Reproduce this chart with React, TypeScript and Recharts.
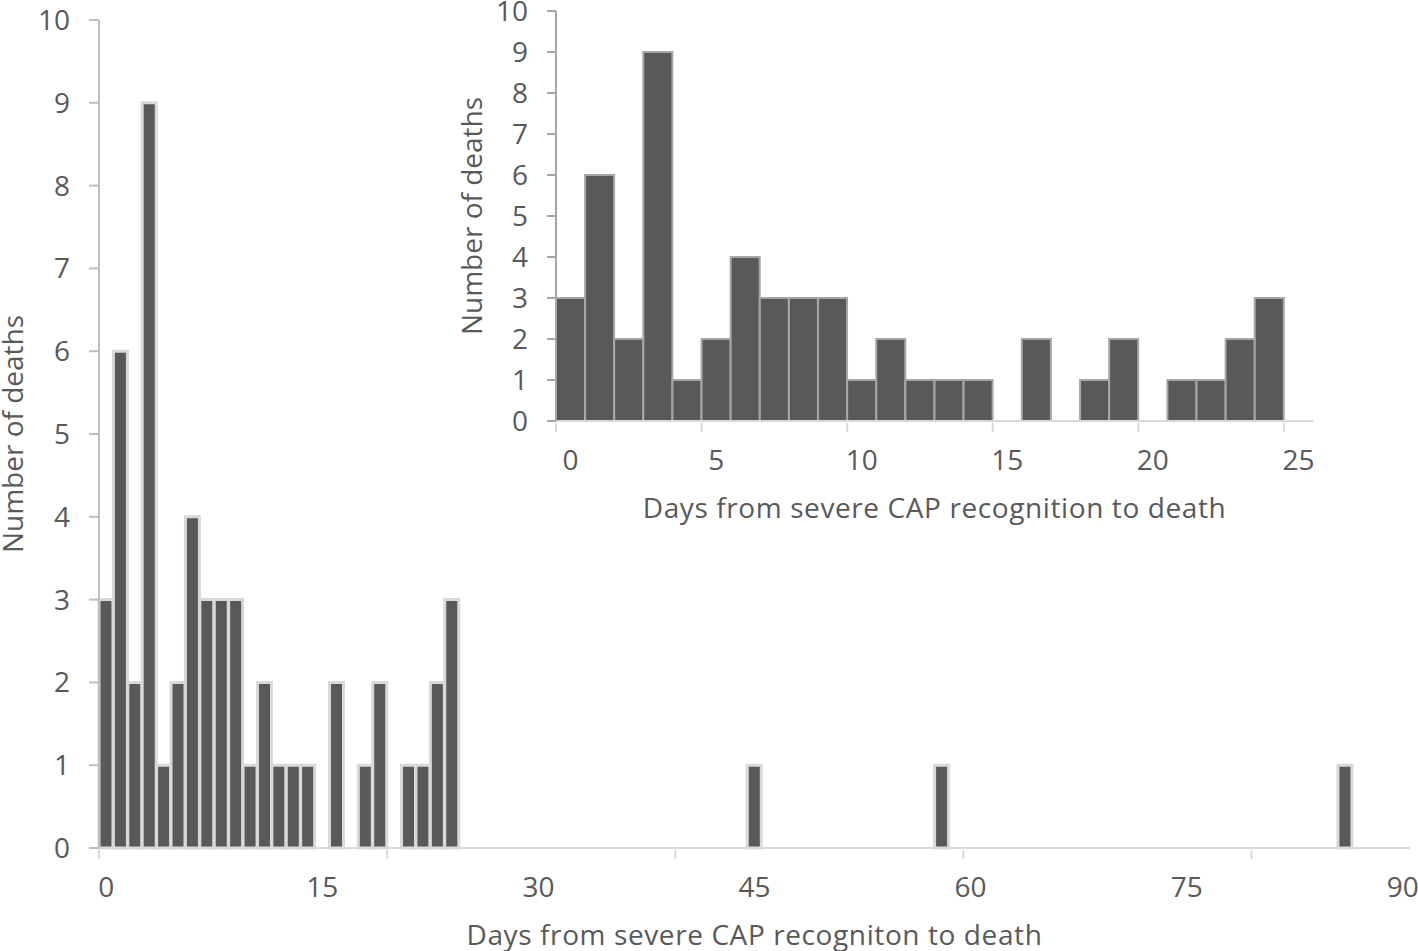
import React from 'react'
import { BarChart, Bar, XAxis, YAxis, Label } from 'recharts'

// deaths per day since severe CAP recognition
const earlyDays = [0, 1, 2, 3, 4, 5, 6, 7, 8, 9, 10, 11, 12, 13, 14, 15, 16, 17, 18, 19, 20, 21, 22, 23, 24, 25]
const earlyCounts = [3, 6, 2, 9, 1, 2, 4, 3, 3, 3, 1, 2, 1, 1, 1, 0, 2, 0, 1, 2, 0, 1, 1, 2, 3, 0]
const lateDays = [45, 58, 86]
const lateCounts = [1, 1, 1]
const lastDay = 90

const yTicks = [0, 1, 2, 3, 4, 5, 6, 7, 8, 9, 10]
const mainLabelDays = [0, 15, 30, 45, 60, 75, 90]
const mainMarkDays = [0, 20, 40, 60, 80]
const insetLabelDays = [0, 5, 10, 15, 20, 25]
const insetMarkDays = [0, 5, 10, 15, 20, 25]

const mainData = Array.from({ length: lastDay + 1 }, (_, day) => {
  const e = earlyDays.indexOf(day)
  const l = lateDays.indexOf(day)
  return { day, deaths: e >= 0 ? earlyCounts[e] : l >= 0 ? lateCounts[l] : 0 }
})
const insetData = earlyDays.map((day, i) => ({ day, deaths: earlyCounts[i] }))

const FONT = '"Open Sans", "Noto Sans", sans-serif'
const TEXT = '#595959'
const FS = 28

const BinTick = (props: any) => {
  const { x, y, payload, labels, marks, markColor } = props
  const half = payload?.offset ?? 0
  const v = Number(payload.value)
  return (
    <g>
      {marks.includes(v) && (
        <line x1={x - half} x2={x - half} y1={y} y2={y + 9} stroke={markColor} strokeWidth={2} />
      )}
      {labels.includes(v) && (
        <text x={x} y={y + 47} textAnchor="middle" fill={TEXT} fontSize={FS} fontFamily={FONT}>
          {v}
        </text>
      )}
    </g>
  )
}

const XTitle = (text: string) => (p: any) => {
  const vb = p.viewBox
  return (
    <text x={vb.x + vb.width / 2} y={vb.y + 97} textAnchor="middle" fill={TEXT} fontSize={FS}
      fontFamily={FONT} letterSpacing={0.6}>
      {text}
    </text>
  )
}

// baseline sits at vb.x + bx, text runs bottom to top
const YTitle = (text: string, bx: number) => (p: any) => {
  const vb = p.viewBox
  const cy = vb.y + vb.height / 2
  const x = vb.x + bx
  return (
    <text x={x} y={cy} transform={`rotate(-90 ${x} ${cy})`} textAnchor="middle"
      fill={TEXT} fontSize={FS} fontFamily={FONT}>
      {text}
    </text>
  )
}

export default function App() {
  return (
    <div style={{ position: 'absolute', left: 0, top: 0, width: 1418, height: 951, background: '#fff', fontFamily: FONT }}>
      <BarChart width={1418} height={951} data={mainData} barCategoryGap={0}
        margin={{ top: 20, right: 8, left: 0, bottom: 0 }}>
        <XAxis dataKey="day" type="category" height={103} interval={0} tickLine={false} tickSize={0}
          axisLine={{ stroke: '#d9d9d9', strokeWidth: 2 }}
          tick={<BinTick labels={mainLabelDays} marks={mainMarkDays} markColor="#d9d9d9" />}>
          <Label content={XTitle('Days from severe CAP recogniton to death')} />
        </XAxis>
        <YAxis width={99} domain={[0, 10]} ticks={yTicks} interval={0} tickSize={10} tickMargin={19}
          axisLine={{ stroke: '#bfbfbf', strokeWidth: 2 }} tickLine={{ stroke: '#bfbfbf', strokeWidth: 2 }}
          tick={{ fill: TEXT, fontSize: FS, fontFamily: FONT }}>
          <Label content={YTitle('Number of deaths', 23)} />
        </YAxis>
        <Bar dataKey="deaths" fill="#595959" stroke="#d9d9d9" strokeWidth={3} isAnimationActive={false} />
      </BarChart>

      <div style={{ position: 'absolute', left: 440, top: 0 }}>
        <BarChart width={900} height={530} data={insetData} barCategoryGap={0}
          margin={{ top: 11, right: 27, left: 0, bottom: 0 }}>
          <XAxis dataKey="day" type="category" height={109} interval={0} tickLine={false} tickSize={0}
            axisLine={{ stroke: '#d9d9d9', strokeWidth: 2 }}
            tick={<BinTick labels={insetLabelDays} marks={insetMarkDays} markColor="#d9d9d9" />}>
            <Label content={XTitle('Days from severe CAP recognition to death')} />
          </XAxis>
          <YAxis width={116} domain={[0, 10]} ticks={yTicks} interval={0} tickSize={9} tickMargin={19}
            axisLine={{ stroke: '#a6a6a6', strokeWidth: 2 }} tickLine={{ stroke: '#a6a6a6', strokeWidth: 2 }}
            tick={{ fill: TEXT, fontSize: FS, fontFamily: FONT }}>
            <Label content={YTitle('Number of deaths', 42)} />
          </YAxis>
          <Bar dataKey="deaths" fill="#595959" stroke="#a6a6a6" strokeWidth={2} isAnimationActive={false} />
        </BarChart>
      </div>
    </div>
  )
}
